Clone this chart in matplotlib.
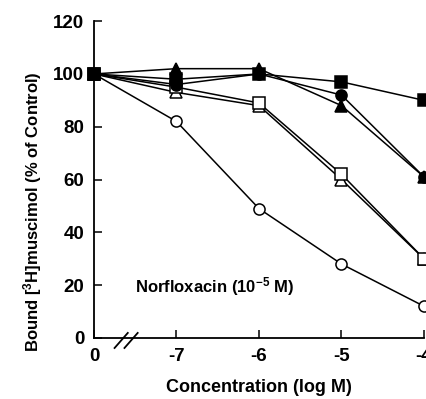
import matplotlib
matplotlib.use("Agg")
import matplotlib.pyplot as plt

# -----------------------------
# Data
# -----------------------------
conc_labels = ["0", "-7", "-6", "-5", "-4"]
conc_pos = [0, 1, 2, 3, 4]

open_circle = [100, 82, 49, 28, 12]
open_triangle = [100, 93, 88, 60, 30]
open_square = [100, 95, 89, 62, 30]
filled_triangle = [100, 102, 102, 88, 61]
filled_circle = [100, 96, 100, 92, 61]
filled_square = [100, 98, 100, 97, 90]

y_ticks = [0, 20, 40, 60, 80, 100, 120]

plt.rcParams["font.family"] = ["Liberation Sans", "DejaVu Sans"]
plt.rcParams["font.weight"] = "bold"
plt.rcParams["mathtext.default"] = "regular"

fig = plt.figure(figsize=(4.27, 3.99), dpi=100)
ax = fig.add_axes([0.220, 0.153, 0.773, 0.794])

series = [
    (open_circle, "o", "white"),
    (open_triangle, "^", "white"),
    (open_square, "s", "white"),
    (filled_triangle, "^", "black"),
    (filled_circle, "o", "black"),
    (filled_square, "s", "black"),
]
for vals, marker, face in series:
    ax.plot(conc_pos, vals, color="black", lw=1.1, marker=marker,
            markersize=8, markerfacecolor=face, markeredgecolor="black",
            markeredgewidth=1.1, clip_on=False, zorder=3)

ax.set_xlim(0, 4)
ax.set_ylim(0, 120)
ax.set_xticks(conc_pos)
ax.set_xticklabels(conc_labels)
ax.set_yticks(y_ticks)

ax.spines["top"].set_visible(False)
ax.spines["right"].set_visible(False)
ax.spines["left"].set_linewidth(1.3)
ax.spines["bottom"].set_linewidth(1.3)
ax.tick_params(direction="in", length=6, width=1.1, labelsize=13.5, pad=7)

# axis break marks
for x0 in (0.25, 0.37):
    ax.plot([x0, x0 + 0.16], [-3.8, 1.9], color="black", lw=1.3, clip_on=False)

ax.text(0.5, 19.5, "Norfloxacin (10$^{-5}$ M)", fontsize=12,
        fontweight="bold", va="center", ha="left")

ax.set_xlabel("Concentration (log M)", fontsize=13, fontweight="bold", labelpad=10)
ax.set_ylabel("Bound [$^3$H]muscimol (% of Control)", fontsize=12,
              fontweight="bold")
ax.yaxis.set_label_coords(-0.15, 0.40)

fig.savefig("out.png", dpi=100)
